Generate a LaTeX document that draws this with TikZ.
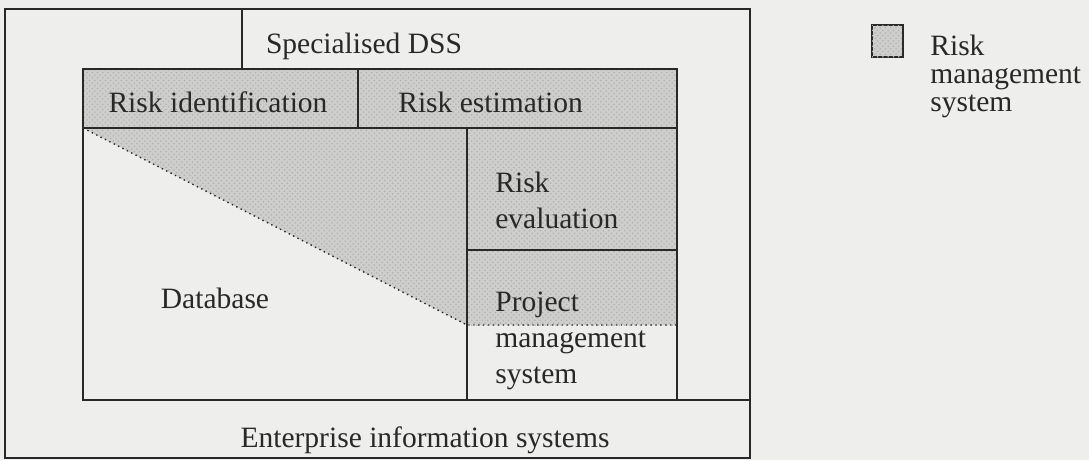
\documentclass[tikz,border=0pt]{standalone}
\usepackage{fontspec}
\setmainfont{Liberation Serif}
\usetikzlibrary{positioning, patterns, calc}
\definecolor{paper}{RGB}{238,238,236}
\definecolor{shade}{RGB}{206,206,204}
\definecolor{ink}{RGB}{40,40,40}

\tikzset{
  frame/.style={draw=ink, line width=1.2pt},
  rms/.style={fill=shade, postaction={pattern=crosshatch dots, pattern color=black!30}},
  label/.style={text=ink, inner sep=0pt, font=\fontsize{16.8}{20.5}\selectfont},
  tight/.style={text=ink, inner sep=0pt, font=\fontsize{16.8}{15.8}\selectfont, align=left},
}

\begin{document}
\begin{tikzpicture}[x=0.02cm, y=-0.02cm]
  \fill[paper] (0,0) rectangle (1089,460);
  \useasboundingbox (0,0) rectangle (1089,460);

  % corners of the blocks
  \coordinate (E1) at (5,9);      \coordinate (E2) at (750,458);
  \coordinate (D1) at (242,9);    \coordinate (D2) at (242,69);
  \coordinate (R1) at (83,69);    \coordinate (R2) at (677,128);
  \coordinate (M) at (358,69);    \coordinate (M2) at (358,128);
  \coordinate (V1) at (467,128);  \coordinate (V2) at (677,250);
  \coordinate (P1) at (467,250);  \coordinate (P2) at (677,400);
  \coordinate (B1) at (83,128);   \coordinate (B2) at (83,400);
  \coordinate (C) at (467,325);   \coordinate (C2) at (677,325);

  % shaded parts
  \fill[rms] (R1) rectangle (R2);
  \fill[rms] (V1) rectangle (C2);
  \fill[rms] (B1) -- (V1) -- (C) -- cycle;
  \draw[ink, dotted, line width=0.8pt] (B1) -- (C) -- (C2);

  % frames
  \draw[frame] (E1) rectangle (E2);
  \draw[frame] (D1) -- (D2);
  \draw[frame] (R1) rectangle (R2);
  \draw[frame] (M) -- (M2);
  \draw[frame] (B1) -- (B2) -- (B2 -| E2);
  \draw[frame] (V1) rectangle (P2);
  \draw[frame] (P1) -- (V2);

  % texts
  \node[label, anchor=base] (dss) at (364,53) {Specialised DSS};
  \node[label, anchor=base] (ident) at (218,112) {Risk identification};
  \node[label, anchor=base west] (estim) at (398,112) {Risk estimation};
  \node[tight, font=\fontsize{16.8}{20.5}\selectfont, anchor=north west] (evalu) at (495,172) {Risk\\evaluation};
  \node[tight, font=\fontsize{16.8}{20.5}\selectfont, anchor=north west] (pms) at (495,292) {Project\\management\\system};
  \node[label, anchor=base] (db) at (215,308) {Database};
  \node[label, anchor=base] (eis) at (425,447) {Enterprise information systems};

  % legend
  \filldraw[rms, draw=ink, line width=1.6pt] (872,25) rectangle (903,57);
  \node[tight, anchor=north west] (key) at (930,35) {Risk\\management\\system};
\end{tikzpicture}
\end{document}
